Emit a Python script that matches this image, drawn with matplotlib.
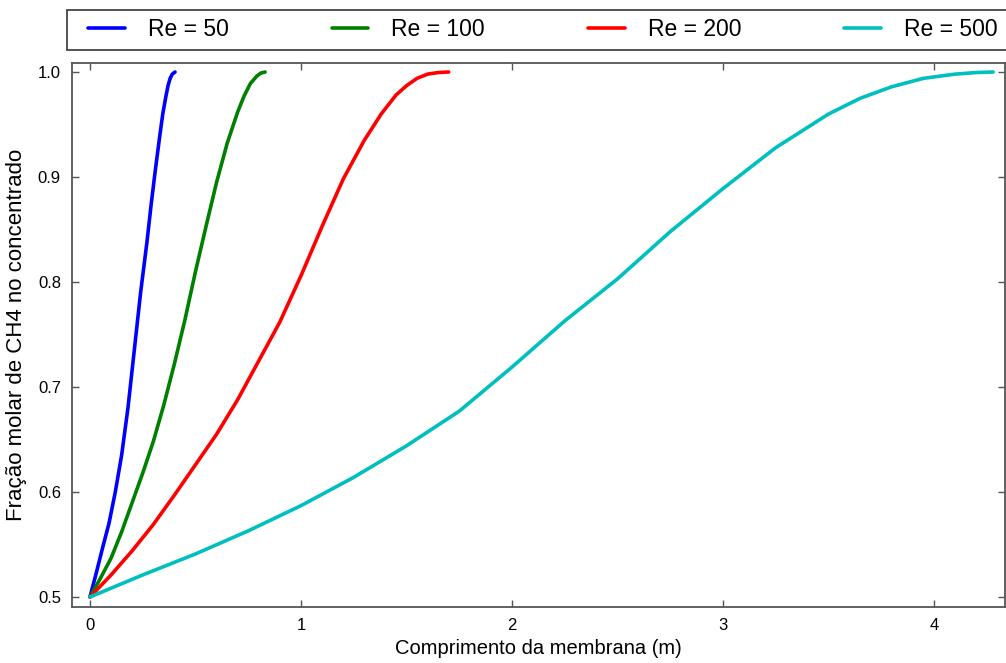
import matplotlib
matplotlib.use("Agg")
import matplotlib.pyplot as plt
import matplotlib.patches as patches

# === Données ===
labels = ["Re = 50", "Re = 100", "Re = 200", "Re = 500"]
colors = ["b", "g", "r", "c"]

x_re50 = [0, 0.03, 0.06, 0.09, 0.12, 0.15, 0.18, 0.21, 0.24, 0.27, 0.29, 0.31,
          0.33, 0.345, 0.36, 0.37, 0.38, 0.39, 0.403]
y_re50 = [0.5, 0.523, 0.547, 0.570, 0.600, 0.635, 0.680, 0.735, 0.790, 0.838,
          0.874, 0.907, 0.938, 0.960, 0.977, 0.987, 0.994, 0.998, 1.0]

x_re100 = [0, 0.05, 0.10, 0.15, 0.20, 0.25, 0.30, 0.35, 0.40, 0.45, 0.50, 0.55,
           0.60, 0.65, 0.70, 0.73, 0.76, 0.79, 0.81, 0.83]
y_re100 = [0.5, 0.518, 0.537, 0.562, 0.590, 0.618, 0.648, 0.683, 0.722, 0.764,
           0.810, 0.853, 0.895, 0.932, 0.962, 0.977, 0.989, 0.996, 0.999, 1.0]

x_re200 = [0, 0.1, 0.2, 0.3, 0.4, 0.5, 0.6, 0.7, 0.8, 0.9, 1.0, 1.1, 1.2, 1.3,
           1.38, 1.45, 1.5, 1.55, 1.6, 1.65, 1.7]
y_re200 = [0.5, 0.521, 0.544, 0.569, 0.597, 0.626, 0.655, 0.688, 0.725, 0.762,
           0.806, 0.853, 0.898, 0.935, 0.960, 0.978, 0.987, 0.994, 0.998, 0.9995, 1.0]

x_re500 = [0, 0.25, 0.5, 0.75, 1.0, 1.25, 1.5, 1.75, 2.0, 2.25, 2.5, 2.75, 3.0,
           3.25, 3.5, 3.65, 3.8, 3.95, 4.1, 4.2, 4.28]
y_re500 = [0.5, 0.521, 0.541, 0.563, 0.587, 0.614, 0.644, 0.677, 0.719, 0.763,
           0.803, 0.848, 0.889, 0.928, 0.960, 0.975, 0.986, 0.994, 0.998, 0.9995, 1.0]

xs = [x_re50, x_re100, x_re200, x_re500]
ys = [y_re50, y_re100, y_re200, y_re500]

xticks = [0, 1, 2, 3, 4]
yticks = [0.5, 0.6, 0.7, 0.8, 0.9, 1.0]

# === Figure ===
plt.rcParams['font.family'] = ['Liberation Sans', 'DejaVu Sans']
fig = plt.figure(figsize=(10.06, 6.63), dpi=100)
ax = fig.add_axes([0.0716, 0.0845, 0.9274, 0.8205])

for x, y, c, lab in zip(xs, ys, colors, labels):
    ax.plot(x, y, color=c, lw=2.6, label=lab, solid_capstyle='round',
            solid_joinstyle='round')

ax.set_xlim(-0.085, 4.336)
ax.set_ylim(0.4905, 1.0086)
ax.set_xticks(xticks)
ax.set_yticks(yticks)
ax.set_yticklabels([f"{v:.1f}" for v in yticks])

edge = '#555555'
for s in ax.spines.values():
    s.set_color(edge)
    s.set_linewidth(1.3)
ax.tick_params(direction='in', top=True, right=True, length=5, width=1,
               color=edge, labelsize=12, pad=8)

ax.set_xlabel("Comprimento da membrana (m)", fontsize=14.5, labelpad=4)
ax.set_ylabel("Fração molar de CH4 no concentrado", fontsize=16, labelpad=8)

# Cadre de la légende (déborde à droite de la figure)
cadre = patches.Rectangle((67 / 1006, 1 - 50 / 663), 1000 / 1006, 40 / 663,
                          transform=fig.transFigure, facecolor='white',
                          edgecolor='#444444', linewidth=1.3, clip_on=False)
fig.patches.append(cadre)

leg = fig.legend(loc='center left', ncol=4,
                 bbox_to_anchor=(88 / 1006, 1 - 30 / 663),
                 bbox_transform=fig.transFigure, fontsize=16.5,
                 handlelength=1.6, handletextpad=1.0, columnspacing=4.5,
                 borderpad=0, borderaxespad=0, frameon=False)

fig.savefig("out.png", dpi=100)
